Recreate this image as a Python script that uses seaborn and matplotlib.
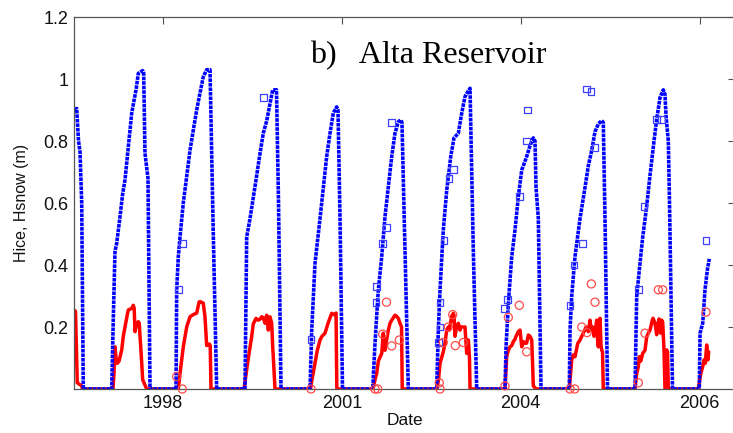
import numpy as np
import pandas as pd
import matplotlib
matplotlib.use("Agg")
import matplotlib.pyplot as plt
import seaborn as sns

# ---------------- data (decimal years, metres) ----------------
ice_t = [1997.305, 1997.346, 1997.374, 1997.397, 1997.423, 1997.447,
         1997.882, 1997.909, 1997.932, 1997.958, 1998.009, 1998.050, 1998.085, 1998.136,
         1998.188, 1998.223, 1998.254, 1998.289, 1998.356, 1998.371, 1998.391, 1998.437, 1998.468,
         1998.866, 1998.876, 1998.901, 1998.927, 1998.977, 1999.029, 1999.080, 1999.130,
         1999.182, 1999.233, 1999.283, 1999.335, 1999.386, 1999.436, 1999.488,
         1999.921, 1999.947, 1999.998, 2000.074, 2000.151, 2000.201, 2000.253, 2000.304,
         2000.345, 2000.403, 2000.434, 2000.472,
         2000.916, 2000.942, 2000.992, 2001.069, 2001.171, 2001.222, 2001.272, 2001.324,
         2001.344, 2001.375, 2001.413,
         2001.875, 2001.910, 2001.961, 2002.013, 2002.063, 2002.114, 2002.166, 2002.216,
         2002.267, 2002.304, 2002.323, 2002.354, 2002.420,
         2002.854, 2002.879, 2002.905, 2002.955, 2003.007, 2003.069, 2003.119, 2003.185,
         2003.237, 2003.287, 2003.333, 2003.364, 2003.414, 2003.466,
         2003.899, 2003.915, 2003.950, 2004.002, 2004.052, 2004.103, 2004.155, 2004.179,
         2004.231, 2004.282, 2004.332, 2004.358, 2004.374, 2004.409, 2004.450,
         2004.883, 2004.894, 2004.920, 2004.970, 2005.047, 2005.123, 2005.174, 2005.226,
         2005.276, 2005.327, 2005.379, 2005.403, 2005.429, 2005.468,
         2005.888, 2005.914, 2005.954, 2006.006, 2006.067, 2006.118, 2006.179, 2006.220,
         2006.271, 2006.321, 2006.347, 2006.363, 2006.398, 2006.416, 2006.462,
         2006.872, 2006.883, 2006.924, 2006.959, 2006.995, 2007.025]
ice_h = [0.90, 0.905, 0.80, 0.765, 0.60, 0.0,
         0.0, 0.25, 0.443, 0.47, 0.556, 0.63, 0.674, 0.78,
         0.89, 0.93, 0.965, 1.018, 1.027, 1.02, 0.76, 0.68, 0.0,
         0.0, 0.32, 0.427, 0.49, 0.60, 0.685, 0.77, 0.835,
         0.90, 0.955, 1.007, 1.03, 1.03, 0.5, 0.0,
         0.0, 0.49, 0.55, 0.653, 0.76, 0.825, 0.865, 0.92,
         0.965, 0.965, 0.60, 0.0,
         0.0, 0.19, 0.405, 0.55, 0.75, 0.825, 0.89, 0.91,
         0.90, 0.55, 0.0,
         0.0, 0.147, 0.32, 0.427, 0.556, 0.653, 0.75, 0.825,
         0.862, 0.868, 0.86, 0.58, 0.0,
         0.0, 0.19, 0.32, 0.513, 0.64, 0.75, 0.81, 0.825,
         0.89, 0.943, 0.96, 0.97, 0.45, 0.0,
         0.0, 0.136, 0.276, 0.427, 0.513, 0.62, 0.706, 0.72,
         0.75, 0.785, 0.81, 0.80, 0.65, 0.55, 0.0,
         0.0, 0.19, 0.30, 0.427, 0.55, 0.65, 0.72, 0.77,
         0.83, 0.855, 0.866, 0.86, 0.55, 0.0,
         0.0, 0.298, 0.384, 0.49, 0.59, 0.69, 0.80, 0.87,
         0.94, 0.965, 0.95, 0.88, 0.80, 0.60, 0.0,
         0.0, 0.18, 0.212, 0.32, 0.384, 0.42]

snow_t = [1997.305, 1997.328, 1997.355, 1997.423, 1997.435,
          1997.902, 1997.917, 1997.932, 1997.948, 1997.968, 1997.994, 1998.035, 1998.059,
          1998.085, 1998.116, 1998.136, 1998.188, 1998.212, 1998.226, 1998.238, 1998.264,
          1998.289, 1998.304, 1998.315, 1998.326, 1998.356, 1998.376, 1998.417,
          1998.901, 1998.927, 1998.977, 1999.029, 1999.080, 1999.130, 1999.182, 1999.218,
          1999.233, 1999.283, 1999.309, 1999.335, 1999.375, 1999.389, 1999.401,
          1999.906, 1999.972, 2000.024, 2000.048, 2000.090, 2000.120, 2000.151, 2000.177,
          2000.201, 2000.227, 2000.253, 2000.278, 2000.304, 2000.330, 2000.345, 2000.354, 2000.380,
          2000.924, 2000.946, 2000.992, 2001.028, 2001.069, 2001.099, 2001.145, 2001.196,
          2001.248, 2001.283, 2001.314, 2001.326,
          2001.880, 2001.910, 2001.936, 2001.961, 2002.013, 2002.037, 2002.051, 2002.063,
          2002.089, 2002.114, 2002.140, 2002.166, 2002.216, 2002.239, 2002.267, 2002.293,
          2002.316, 2002.327,
          2002.859, 2002.882, 2002.905, 2002.955, 2002.981, 2003.007, 2003.032, 2003.047,
          2003.084, 2003.108, 2003.119, 2003.134, 2003.150, 2003.160, 2003.185, 2003.211,
          2003.226, 2003.261, 2003.287, 2003.313, 2003.338, 2003.356, 2003.364,
          2003.899, 2003.925, 2003.950, 2003.976, 2004.002, 2004.026, 2004.052, 2004.068,
          2004.103, 2004.129, 2004.155, 2004.179, 2004.205, 2004.231, 2004.256, 2004.282,
          2004.308, 2004.320, 2004.332, 2004.374,
          2004.883, 2004.920, 2004.944, 2004.970, 2005.012, 2005.047, 2005.073, 2005.097,
          2005.139, 2005.174, 2005.200, 2005.220, 2005.241, 2005.261, 2005.276, 2005.302,
          2005.315, 2005.327, 2005.342, 2005.353, 2005.368, 2005.379, 2005.391, 2005.403,
          2005.888, 2005.914, 2005.939, 2005.954, 2005.976, 2006.006, 2006.041, 2006.067,
          2006.092, 2006.118, 2006.153, 2006.164, 2006.194, 2006.220, 2006.245, 2006.256,
          2006.282, 2006.297, 2006.312, 2006.332, 2006.347, 2006.360, 2006.373, 2006.386, 2006.398,
          2006.857, 2006.894, 2006.924, 2006.944, 2006.964, 2006.985, 2006.998, 2007.005, 2007.016]
snow_h = [0.255, 0.25, 0.02, 0.01, 0.0,
          0.0, 0.05, 0.136, 0.10, 0.083, 0.09, 0.126, 0.17,
          0.20, 0.235, 0.255, 0.26, 0.27, 0.26, 0.185, 0.21,
          0.217, 0.212, 0.17, 0.136, 0.03, 0.02, 0.0,
          0.0, 0.05, 0.136, 0.20, 0.233, 0.24, 0.245, 0.28,
          0.282, 0.277, 0.233, 0.14, 0.145, 0.14, 0.0,
          0.0, 0.10, 0.17, 0.21, 0.228, 0.222, 0.225, 0.233,
          0.23, 0.212, 0.238, 0.19, 0.233, 0.212, 0.136, 0.104, 0.0,
          0.0, 0.03, 0.083, 0.125, 0.158, 0.17, 0.18, 0.215,
          0.244, 0.24, 0.245, 0.0,
          0.0, 0.03, 0.05, 0.09, 0.115, 0.18, 0.13, 0.125,
          0.16, 0.19, 0.212, 0.222, 0.238, 0.235, 0.228, 0.212,
          0.20, 0.0,
          0.0, 0.03, 0.083, 0.12, 0.147, 0.19, 0.20, 0.19,
          0.235, 0.244, 0.238, 0.17, 0.19, 0.20, 0.212, 0.19,
          0.20, 0.20, 0.20, 0.115, 0.158, 0.10, 0.0,
          0.0, 0.104, 0.125, 0.136, 0.14, 0.153, 0.16, 0.17,
          0.185, 0.19, 0.136, 0.153, 0.147, 0.148, 0.174, 0.17,
          0.158, 0.09, 0.01, 0.0,
          0.0, 0.094, 0.11, 0.104, 0.147, 0.158, 0.17, 0.18,
          0.20, 0.185, 0.222, 0.19, 0.20, 0.17, 0.18, 0.222,
          0.16, 0.136, 0.20, 0.228, 0.14, 0.125, 0.12, 0.0,
          0.0, 0.05, 0.072, 0.104, 0.09, 0.115, 0.125, 0.168,
          0.18, 0.19, 0.222, 0.228, 0.212, 0.175, 0.215, 0.226,
          0.18, 0.222, 0.215, 0.125, 0.0, 0.0, 0.126, 0.12, 0.0,
          0.0, 0.05, 0.072, 0.094, 0.083, 0.142, 0.10, 0.094, 0.12]

obs_ice_t = [1998.901, 1998.968, 2000.201, 2000.931, 2001.926, 2001.936, 2002.028, 2002.089,
             2002.166, 2002.879, 2002.905, 2002.905, 2002.966, 2003.043, 2003.108, 2003.889,
             2003.941, 2004.118, 2004.231, 2004.247, 2004.894, 2004.955, 2005.088, 2005.149,
             2005.215, 2005.276, 2005.939, 2006.026, 2006.220, 2006.297, 2006.975]
obs_ice_h = [0.32, 0.47, 0.94, 0.16, 0.278, 0.33, 0.47, 0.52,
             0.86, 0.15, 0.20, 0.28, 0.48, 0.68, 0.709, 0.26,
             0.29, 0.62, 0.80, 0.90, 0.27, 0.40, 0.47, 0.968,
             0.96, 0.78, 0.32, 0.59, 0.87, 0.87, 0.48]

obs_snow_t = [1998.876, 1998.962, 2000.931, 2001.910, 2001.952, 2002.028, 2002.086, 2002.166,
              2002.282, 2002.894, 2002.905, 2002.955, 2003.032, 2003.099, 2003.139, 2003.261,
              2003.899, 2003.950, 2004.118, 2004.231, 2004.894, 2004.966, 2005.073, 2005.154,
              2005.220, 2005.276, 2005.939, 2006.041, 2006.245, 2006.312, 2006.975]
obs_snow_h = [0.04, 0.0, 0.0, 0.0, 0.0, 0.177, 0.28, 0.139,
              0.158, 0.02, 0.0, 0.15, 0.20, 0.24, 0.14, 0.15,
              0.01, 0.231, 0.27, 0.12, 0.0, 0.0, 0.20, 0.182,
              0.339, 0.28, 0.02, 0.18, 0.32, 0.32, 0.248]

tick_pos = [1998.667, 2001.403, 2004.140, 2006.877]
tick_lab = ["1998", "2001", "2004", "2006"]
ytick_vals = [0.2, 0.4, 0.6, 0.8, 1.0, 1.2]
ytick_lab = ["0.2", "0.4", "0.6", "0.8", "1", "1.2"]

# ---------------- figure ----------------
sns.set_style("white")
plt.rcParams["font.family"] = ["Liberation Sans", "DejaVu Sans"]

W, H = 733, 433
fig = plt.figure(figsize=(W / 100, H / 100), dpi=100)
ax = fig.add_axes([74 / W, (H - 389) / H, 661 / W, 372 / H])

ice_df = pd.DataFrame({"t": ice_t, "h": ice_h})
snow_df = pd.DataFrame({"t": snow_t, "h": snow_h})

sns.lineplot(data=snow_df, x="t", y="h", ax=ax, color="#ff0000", lw=2.5,
             estimator=None, sort=False, errorbar=None)
sns.lineplot(data=ice_df, x="t", y="h", ax=ax, color="#0000ff", lw=2.6,
             estimator=None, sort=False, errorbar=None)
ax.lines[-1].set_linestyle((0, (1.0, 0.25)))
ax.lines[-1].set_dash_capstyle("butt")

sns.scatterplot(x=obs_ice_t, y=obs_ice_h, ax=ax, marker="s", s=24,
                facecolor="none", edgecolor="#4040ff", linewidth=0.9, clip_on=False, zorder=5)
sns.scatterplot(x=obs_snow_t, y=obs_snow_h, ax=ax, marker="o", s=34,
                facecolor="none", edgecolor="#ff4a4a", linewidth=0.9, clip_on=False, zorder=5)

ax.set_xlim(1997.305, 2007.418)
ax.set_ylim(0, 1.2)
ax.set_xticks(tick_pos)
ax.set_xticklabels(tick_lab)
ax.set_yticks(ytick_vals)
ax.set_yticklabels(ytick_lab)
ax.tick_params(direction="in", length=5, width=0.8, color="#505050",
               top=True, right=True, labelsize=13, labelcolor="#111111", pad=4)
for s in ax.spines.values():
    s.set_color("#555555")
    s.set_linewidth(0.9)

ax.set_xlabel("Date", fontsize=12.5, color="#111111", labelpad=1)
ax.set_ylabel("Hice, Hsnow (m)", fontsize=11.5, color="#111111", labelpad=10)

fig.text(310 / W, (H - 63) / H, "b)   Alta Reservoir", family=["Liberation Serif", "DejaVu Serif"],
         fontsize=23, va="baseline", ha="left", color="black")

fig.savefig("out.png", dpi=100)
